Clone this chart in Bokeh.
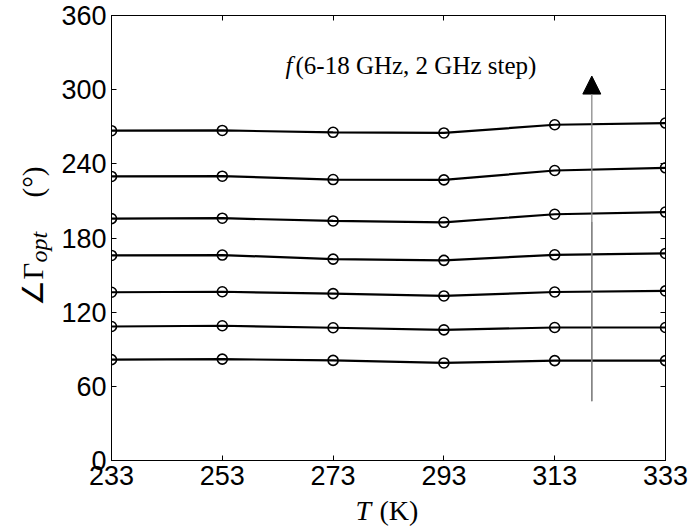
from bokeh.plotting import figure
from bokeh.models import Label, Arrow, NormalHead, FixedTicker, LinearAxis, Range1d, CustomJSTickFormatter
from bokeh.embed import file_html
from bokeh.resources import INLINE
import math

# ---------------- data ----------------
temps = [233, 253, 273, 293, 313, 333]
freqs_ghz = [6, 8, 10, 12, 14, 16, 18]
angle_6 = [81.6, 82.0, 81.0, 78.9, 80.8, 80.8]
angle_8 = [108.4, 109.0, 107.4, 105.7, 107.6, 107.6]
angle_10 = [136.1, 136.5, 135.0, 133.1, 136.3, 137.2]
angle_12 = [165.9, 166.2, 162.9, 161.9, 166.4, 167.5]
angle_14 = [195.7, 196.0, 193.8, 192.7, 199.2, 201.0]
angle_16 = [229.8, 230.0, 227.3, 227.0, 234.6, 236.8]
angle_18 = [266.8, 267.0, 265.5, 265.0, 271.6, 273.0]
series = [angle_6, angle_8, angle_10, angle_12, angle_14, angle_16, angle_18]
x_ticks = [233, 253, 273, 293, 313, 333]
y_ticks = [0, 60, 120, 180, 240, 300, 360]
arrow_x = 319.7
arrow_y_start = 48
arrow_y_mid = 193
arrow_y_end = 311
annot_text = "(6-18 GHz, 2 GHz step)"
NBSP = "\u00a0"
ylabel_main = "∠Γ" + NBSP * 9 + "(°)"
ylabel_sub = "opt"

# ---------------- layout ----------------
X0, X1 = 233, 333
Y0, Y1 = 0, 360
FW, FH = 554, 445
ML, MT = 109, 15
PL, PT = ML, MT
PB = PT + FH

def dx(px):
    return X0 + (px - PL) * (X1 - X0) / FW

def dy(py):
    return Y0 + (PB - py) * (Y1 - Y0) / FH

p = figure(frame_width=FW, frame_height=FH, output_backend="svg", toolbar_location=None,
           x_range=Range1d(X0, X1), y_range=Range1d(Y0, Y1),
           min_border_left=ML, min_border_top=MT, min_border_right=25, min_border_bottom=68,
           background_fill_color="white", border_fill_color="white")
p.outline_line_color = "black"
p.outline_line_width = 1
p.grid.visible = False

TICK_FONT = "Liberation Sans"
for ax in (p.xaxis[0], p.yaxis[0]):
    ax.major_tick_in = 5
    ax.major_tick_out = 0
    ax.minor_tick_line_color = None
    ax.axis_line_color = "black"
    ax.axis_line_width = 1
    ax.major_tick_line_color = "black"
    ax.major_label_text_font = TICK_FONT
    ax.major_label_text_font_size = "27px"
    ax.major_label_text_color = "black"
p.xaxis[0].ticker = FixedTicker(ticks=x_ticks)
p.yaxis[0].ticker = FixedTicker(ticks=y_ticks)
p.xaxis[0].major_label_standoff = 5
p.yaxis[0].major_label_standoff = 5

blank = CustomJSTickFormatter(code="return ''")
top = LinearAxis(ticker=FixedTicker(ticks=x_ticks), formatter=blank, major_tick_in=5, major_tick_out=0,
                 minor_tick_line_color=None, major_label_standoff=0, axis_line_color="black")
right = LinearAxis(ticker=FixedTicker(ticks=y_ticks), formatter=blank, major_tick_in=5, major_tick_out=0,
                   minor_tick_line_color=None, major_label_standoff=0, axis_line_color="black")
p.add_layout(top, "above")
p.add_layout(right, "right")

for s in series:
    p.line(temps, s, line_color="black", line_width=2.2)
    p.scatter(temps, s, marker="circle", size=10, fill_color=None, line_color="black", line_width=1.6)

# arrow
p.add_layout(Arrow(x_start=arrow_x, y_start=arrow_y_start, x_end=arrow_x, y_end=arrow_y_end,
                   line_color="#8a8a8a", line_width=1.3,
                   end=NormalHead(size=18, fill_color="black", line_color="black", line_width=1)))
p.segment(x0=[arrow_x], y0=[arrow_y_start], x1=[arrow_x], y1=[arrow_y_mid], line_color="#333333", line_width=1)

SERIF = "Liberation Serif"
# annotation text (inside frame)
p.add_layout(Label(x=dx(283), y=dy(65), text="f", text_font=SERIF, text_font_style="italic", text_color="black",
                   text_font_size="25px", text_baseline="middle", text_align="left"))
p.add_layout(Label(x=dx(293), y=dy(65), text=annot_text, text_font=SERIF, text_color="black",
                   text_font_size="25px", text_baseline="middle", text_align="left"))

# texts outside the frame go to side panels (not clipped); positioned in data units
rot = math.pi / 2
p.add_layout(Label(x=dx(30), y=dy(305), text=ylabel_main, text_font=SERIF, angle=rot, text_color="black",
                   text_font_size="29px", text_baseline="middle", text_align="left"), "left")
p.add_layout(Label(x=dx(36), y=dy(262), text=ylabel_sub, text_font=SERIF, text_font_style="italic", angle=rot,
                   text_color="black", text_font_size="24px", text_baseline="middle", text_align="left"), "left")
p.add_layout(Label(x=dx(353), y=dy(510), text="T", text_font=SERIF, text_font_style="italic", text_color="black",
                   text_font_size="28px", text_baseline="middle", text_align="left"), "right")
p.add_layout(Label(x=dx(377), y=dy(510), text="(K)", text_font=SERIF, text_color="black",
                   text_font_size="28px", text_baseline="middle", text_align="left"), "below")

open("out.html", "w").write(file_html(p, INLINE))
